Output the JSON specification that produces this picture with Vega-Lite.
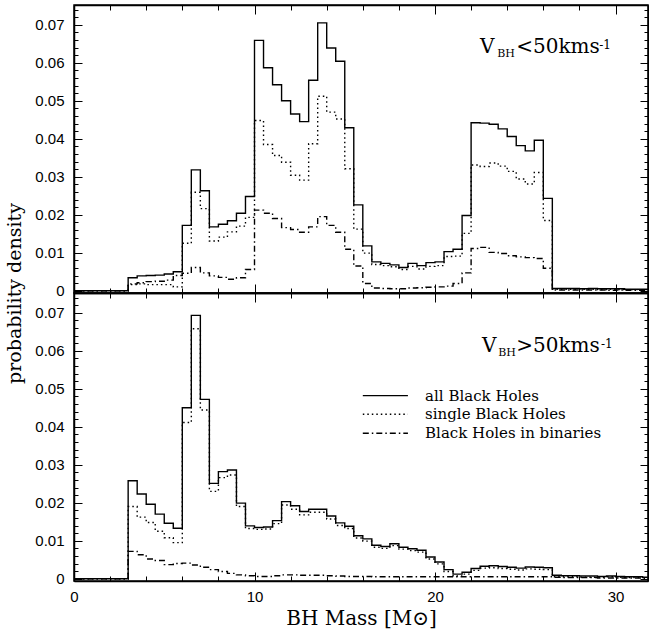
{
  "$schema": "https://vega.github.io/schema/vega-lite/v6.json",
  "padding": {"left": 4, "top": 3, "right": 0, "bottom": 0},
  "spacing": 0,
  "bounds": "flush",
  "config": {
    "view": {"stroke": null},
    "axis": {
      "grid": false, "domain": true, "ticks": true, "domainColor": "#000", "domainWidth": 1.5, "tickColor": "#000", "tickWidth": 1,
      "labelColor": "#000", "labelFont": "Liberation Sans", "labelFontSize": 15, "labelFlush": false,
      "labelOverlap": false, "labelBound": false,
      "titleColor": "#000", "titleFont": "DejaVu Serif", "titleFontWeight": "normal", "titleFontSize": 19
    },
    "text": {"font": "DejaVu Serif", "color": "#000"}
  },
  "datasets": {
    "hist": [
      {"p":"t","x":0,"a":0,"s":0,"b":0},
      {"p":"t","x":3,"a":0.0034,"s":0.0016,"b":0.0018},
      {"p":"t","x":3.5,"a":0.0039,"s":0.0018,"b":0.0021},
      {"p":"t","x":4,"a":0.0040,"s":0.0016,"b":0.0024},
      {"p":"t","x":4.5,"a":0.0041,"s":0.0016,"b":0.0025},
      {"p":"t","x":5,"a":0.0044,"s":0.0016,"b":0.0028},
      {"p":"t","x":5.5,"a":0.0050,"s":0.0010,"b":0.0040},
      {"p":"t","x":6,"a":0.0172,"s":0.0125,"b":0.0046},
      {"p":"t","x":6.5,"a":0.0318,"s":0.0259,"b":0.0061},
      {"p":"t","x":7,"a":0.0263,"s":0.0216,"b":0.0047},
      {"p":"t","x":7.5,"a":0.0168,"s":0.0131,"b":0.0039},
      {"p":"t","x":8,"a":0.0175,"s":0.0141,"b":0.0035},
      {"p":"t","x":8.5,"a":0.0184,"s":0.0155,"b":0.0030},
      {"p":"t","x":9,"a":0.0204,"s":0.0170,"b":0.0034},
      {"p":"t","x":9.5,"a":0.0248,"s":0.0193,"b":0.0056},
      {"p":"t","x":10,"a":0.0659,"s":0.0448,"b":0.0212},
      {"p":"t","x":10.5,"a":0.0587,"s":0.0385,"b":0.0204},
      {"p":"t","x":11,"a":0.0542,"s":0.0356,"b":0.0190},
      {"p":"t","x":11.5,"a":0.0500,"s":0.0338,"b":0.0166},
      {"p":"t","x":12,"a":0.0465,"s":0.0304,"b":0.0161},
      {"p":"t","x":12.5,"a":0.0445,"s":0.0291,"b":0.0154},
      {"p":"t","x":13,"a":0.0554,"s":0.0387,"b":0.0168},
      {"p":"t","x":13.5,"a":0.0705,"s":0.0512,"b":0.0195},
      {"p":"t","x":14,"a":0.0639,"s":0.0470,"b":0.0172},
      {"p":"t","x":14.5,"a":0.0604,"s":0.0452,"b":0.0154},
      {"p":"t","x":15,"a":0.0429,"s":0.0321,"b":0.0109},
      {"p":"t","x":15.5,"a":0.0226,"s":0.0162,"b":0.0065},
      {"p":"t","x":16,"a":0.0118,"s":0.0099,"b":0.0019},
      {"p":"t","x":16.5,"a":0.0076,"s":0.0069,"b":0.0007},
      {"p":"t","x":17,"a":0.0072,"s":0.0066,"b":0.0006},
      {"p":"t","x":17.5,"a":0.0068,"s":0.0063,"b":0.0005},
      {"p":"t","x":18,"a":0.0061,"s":0.0056,"b":0.0005},
      {"p":"t","x":18.5,"a":0.0072,"s":0.0064,"b":0.0007},
      {"p":"t","x":19,"a":0.0066,"s":0.0057,"b":0.0008},
      {"p":"t","x":19.5,"a":0.0074,"s":0.0064,"b":0.0009},
      {"p":"t","x":20,"a":0.0076,"s":0.0066,"b":0.0010},
      {"p":"t","x":20.5,"a":0.0103,"s":0.0090,"b":0.0012},
      {"p":"t","x":21,"a":0.0109,"s":0.0091,"b":0.0019},
      {"p":"t","x":21.5,"a":0.0198,"s":0.0151,"b":0.0047},
      {"p":"t","x":22,"a":0.0442,"s":0.0331,"b":0.0111},
      {"p":"t","x":22.5,"a":0.0441,"s":0.0327,"b":0.0114},
      {"p":"t","x":23,"a":0.0438,"s":0.0336,"b":0.0101},
      {"p":"t","x":23.5,"a":0.0426,"s":0.0328,"b":0.0098},
      {"p":"t","x":24,"a":0.0406,"s":0.0314,"b":0.0092},
      {"p":"t","x":24.5,"a":0.0382,"s":0.0294,"b":0.0089},
      {"p":"t","x":25,"a":0.0368,"s":0.0281,"b":0.0087},
      {"p":"t","x":25.5,"a":0.0396,"s":0.0311,"b":0.0085},
      {"p":"t","x":26,"a":0.0243,"s":0.0185,"b":0.0059},
      {"p":"t","x":26.5,"a":0.0006,"s":0.0004,"b":0.0002},
      {"p":"t","x":27,"a":0.0006,"s":0.0004,"b":0.0002},
      {"p":"t","x":27.5,"a":0.0006,"s":0.0004,"b":0.0002},
      {"p":"t","x":28,"a":0.0005,"s":0.0004,"b":0.0002},
      {"p":"t","x":28.5,"a":0.0006,"s":0.0004,"b":0.0002},
      {"p":"t","x":29,"a":0.0005,"s":0.0003,"b":0.0002},
      {"p":"t","x":29.5,"a":0.0005,"s":0.0004,"b":0.0001},
      {"p":"t","x":30,"a":0.0005,"s":0.0003,"b":0.0002},
      {"p":"t","x":30.5,"a":0.0004,"s":0.0003,"b":0.0001},
      {"p":"t","x":31,"a":0.0004,"s":0.0003,"b":0.0001},
      {"p":"t","x":31.5,"a":0.0004,"s":0.0003,"b":0.0001},
      {"p":"t","x":31.8,"a":0.0004,"s":0.0003,"b":0.0001},
      {"p":"b","x":0,"a":0,"s":0,"b":0},
      {"p":"b","x":3,"a":0.0258,"s":0.0190,"b":0.0072},
      {"p":"b","x":3.5,"a":0.0223,"s":0.0162,"b":0.0063},
      {"p":"b","x":4,"a":0.0196,"s":0.0148,"b":0.0052},
      {"p":"b","x":4.5,"a":0.0170,"s":0.0125,"b":0.0048},
      {"p":"b","x":5,"a":0.0146,"s":0.0108,"b":0.0037},
      {"p":"b","x":5.5,"a":0.0133,"s":0.0095,"b":0.0040},
      {"p":"b","x":6,"a":0.0450,"s":0.0411,"b":0.0041},
      {"p":"b","x":6.5,"a":0.0693,"s":0.0658,"b":0.0036},
      {"p":"b","x":7,"a":0.0472,"s":0.0444,"b":0.0030},
      {"p":"b","x":7.5,"a":0.0251,"s":0.0230,"b":0.0024},
      {"p":"b","x":8,"a":0.0282,"s":0.0266,"b":0.0019},
      {"p":"b","x":8.5,"a":0.0286,"s":0.0273,"b":0.0014},
      {"p":"b","x":9,"a":0.0199,"s":0.0190,"b":0.0010},
      {"p":"b","x":9.5,"a":0.0139,"s":0.0132,"b":0.0008},
      {"p":"b","x":10,"a":0.0135,"s":0.0130,"b":0.0006},
      {"p":"b","x":10.5,"a":0.0136,"s":0.0131,"b":0.0006},
      {"p":"b","x":11,"a":0.0153,"s":0.0145,"b":0.0008},
      {"p":"b","x":11.5,"a":0.0203,"s":0.0194,"b":0.0010},
      {"p":"b","x":12,"a":0.0192,"s":0.0183,"b":0.0010},
      {"p":"b","x":12.5,"a":0.0177,"s":0.0168,"b":0.0009},
      {"p":"b","x":13,"a":0.0183,"s":0.0175,"b":0.0009},
      {"p":"b","x":13.5,"a":0.0183,"s":0.0175,"b":0.0009},
      {"p":"b","x":14,"a":0.0165,"s":0.0157,"b":0.0008},
      {"p":"b","x":14.5,"a":0.0147,"s":0.0140,"b":0.0007},
      {"p":"b","x":15,"a":0.0138,"s":0.0132,"b":0.0006},
      {"p":"b","x":15.5,"a":0.0113,"s":0.0107,"b":0.0006},
      {"p":"b","x":16,"a":0.0105,"s":0.0099,"b":0.0006},
      {"p":"b","x":16.5,"a":0.0088,"s":0.0083,"b":0.0005},
      {"p":"b","x":17,"a":0.0085,"s":0.0080,"b":0.0005},
      {"p":"b","x":17.5,"a":0.0092,"s":0.0087,"b":0.0005},
      {"p":"b","x":18,"a":0.0083,"s":0.0078,"b":0.0005},
      {"p":"b","x":18.5,"a":0.0079,"s":0.0074,"b":0.0005},
      {"p":"b","x":19,"a":0.0075,"s":0.0070,"b":0.0005},
      {"p":"b","x":19.5,"a":0.0057,"s":0.0052,"b":0.0005},
      {"p":"b","x":20,"a":0.0044,"s":0.0039,"b":0.0005},
      {"p":"b","x":20.5,"a":0.0024,"s":0.0019,"b":0.0005},
      {"p":"b","x":21,"a":0.0012,"s":0.0007,"b":0.0005},
      {"p":"b","x":21.5,"a":0.0017,"s":0.0012,"b":0.0005},
      {"p":"b","x":22,"a":0.0027,"s":0.0022,"b":0.0005},
      {"p":"b","x":22.5,"a":0.0033,"s":0.0028,"b":0.0005},
      {"p":"b","x":23,"a":0.0034,"s":0.0029,"b":0.0005},
      {"p":"b","x":23.5,"a":0.0032,"s":0.0027,"b":0.0005},
      {"p":"b","x":24,"a":0.0030,"s":0.0025,"b":0.0005},
      {"p":"b","x":24.5,"a":0.0028,"s":0.0023,"b":0.0005},
      {"p":"b","x":25,"a":0.0031,"s":0.0026,"b":0.0005},
      {"p":"b","x":25.5,"a":0.0030,"s":0.0025,"b":0.0005},
      {"p":"b","x":26,"a":0.0029,"s":0.0024,"b":0.0005},
      {"p":"b","x":26.5,"a":0.0009,"s":0.0005,"b":0.0004},
      {"p":"b","x":27,"a":0.0008,"s":0.0005,"b":0.0003},
      {"p":"b","x":27.5,"a":0.0008,"s":0.0005,"b":0.0003},
      {"p":"b","x":28,"a":0.0007,"s":0.0004,"b":0.0003},
      {"p":"b","x":28.5,"a":0.0007,"s":0.0004,"b":0.0003},
      {"p":"b","x":29,"a":0.0006,"s":0.0004,"b":0.0002},
      {"p":"b","x":29.5,"a":0.0007,"s":0.0005,"b":0.0002},
      {"p":"b","x":30,"a":0.0006,"s":0.0004,"b":0.0002},
      {"p":"b","x":30.5,"a":0.0005,"s":0.0003,"b":0.0002},
      {"p":"b","x":31,"a":0.0005,"s":0.0003,"b":0.0002},
      {"p":"b","x":31.5,"a":0.0004,"s":0.0003,"b":0.0001},
      {"p":"b","x":31.8,"a":0.0004,"s":0.0003,"b":0.0001}
    ],
    "notes": [
      {"p":"t","x":22.49,"y":0.0626,"text":"V","size":20},
      {"p":"t","x":23.45,"y":0.0614,"text":"BH","size":11},
      {"p":"t","x":24.5,"y":0.0626,"text":"<50kms","size":20},
      {"p":"t","x":29.1,"y":0.0636,"text":"-1","size":12},
      {"p":"b","x":22.6,"y":0.0597,"text":"V","size":20},
      {"p":"b","x":23.5,"y":0.0585,"text":"BH","size":11},
      {"p":"b","x":24.5,"y":0.0597,"text":">50kms","size":20},
      {"p":"b","x":29.2,"y":0.0607,"text":"-1","size":12}
    ],
    "legend": [
      {"series":"a","x1":16.0,"x2":18.5,"xt":19.45,"y":0.0482,"label":"all Black Holes"},
      {"series":"s","x1":16.0,"x2":18.5,"xt":19.45,"y":0.0433,"label":"single Black Holes"},
      {"series":"b","x1":16.0,"x2":18.5,"xt":19.45,"y":0.0383,"label":"Black Holes in binaries"}
    ]
  },
  "vconcat": [
    {
      "width": 574, "height": 288,
      "view": {"stroke": "#000", "strokeWidth": 1.5},
      "resolve": {"axis": {"x": "independent", "y": "independent"}},
      "layer": [
        {
          "data": {"name": "hist"},
          "transform": [{"filter": "datum.p === 't'"}, {"fold": ["a", "s", "b"], "as": ["series", "value"]}],
          "mark": {"type": "line", "interpolate": "step-after", "color": "#000", "strokeWidth": 1.4},
          "encoding": {
            "x": {"field": "x", "type": "quantitative", "scale": {"domain": [0, 31.8], "nice": false, "zero": false},
              "axis": {"orient": "bottom", "labels": false, "title": null, "values": [0, 10, 20, 30], "tickSize": -9,
                "domainColor": "#000", "tickColor": "#000", "domainWidth": 1.5, "tickWidth": 1}},
            "y": {"field": "value", "type": "quantitative", "scale": {"domain": [-0.0006, 0.0752], "nice": false, "zero": false},
              "axis": {"orient": "left", "title": null, "minExtent": 46, "maxExtent": 46,
                "values": [0, 0.01, 0.02, 0.03, 0.04, 0.05, 0.06, 0.07],
                "labelExpr": "datum.value == 0 ? '0' : format(datum.value, '.2f')",
                "tickSize": -8, "labelPadding": 18, "domainColor": "#000", "tickColor": "#000", "domainWidth": 1.5, "tickWidth": 1}},
            "strokeDash": {"field": "series", "type": "nominal", "scale": {"domain": ["a", "s", "b"], "range": [[1, 0], [1.5, 3], [6, 3, 1.5, 3]]}, "legend": null}
          }
        },
        {
          "data": {"name": "hist"},
          "transform": [{"filter": "datum.p === 't'"}, {"fold": ["a", "s", "b"], "as": ["series", "value"]}],
          "mark": {"type": "line", "opacity": 0},
          "encoding": {
            "x": {"field": "x", "type": "quantitative",
              "axis": {"orient": "top", "labels": false, "title": null, "values": [0, 10, 20, 30], "tickSize": -9, "minExtent": 0, "maxExtent": 0,
                "domainColor": "#000", "tickColor": "#000", "domainWidth": 1.5, "tickWidth": 1}},
            "y": {"field": "value", "type": "quantitative",
              "axis": {"orient": "right", "labels": false, "title": null, "values": [0, 0.01, 0.02, 0.03, 0.04, 0.05, 0.06, 0.07], "tickSize": -8, "minExtent": 0, "maxExtent": 0,
                "domainColor": "#000", "tickColor": "#000", "domainWidth": 1.5, "tickWidth": 1}}
          }
        },
        {
          "data": {"name": "hist"},
          "transform": [{"filter": "datum.p === 't'"}, {"fold": ["a", "s", "b"], "as": ["series", "value"]}],
          "mark": {"type": "line", "opacity": 0},
          "encoding": {
            "x": {"field": "x", "type": "quantitative",
              "axis": {"orient": "bottom", "labels": false, "domain": false, "title": null, "values": [2,4,6,8,12,14,16,18,22,24,26,28], "tickSize": -5, "minExtent": 0, "maxExtent": 0,
                "tickColor": "#000", "tickWidth": 1}},
            "y": {"field": "value", "type": "quantitative",
              "axis": {"orient": "left", "labels": false, "domain": false, "title": null, "tickSize": -4, "minExtent": 0, "maxExtent": 0, "tickColor": "#000", "tickWidth": 1,
                "values": [0.002,0.004,0.006,0.008,0.012,0.014,0.016,0.018,0.022,0.024,0.026,0.028,0.032,0.034,0.036,0.038,0.042,0.044,0.046,0.048,0.052,0.054,0.056,0.058,0.062,0.064,0.066,0.068,0.072,0.074]}}
          }
        },
        {
          "data": {"name": "hist"},
          "transform": [{"filter": "datum.p === 't'"}, {"fold": ["a", "s", "b"], "as": ["series", "value"]}],
          "mark": {"type": "line", "opacity": 0},
          "encoding": {
            "x": {"field": "x", "type": "quantitative",
              "axis": {"orient": "top", "labels": false, "domain": false, "title": null, "values": [2,4,6,8,12,14,16,18,22,24,26,28], "tickSize": -5, "minExtent": 0, "maxExtent": 0,
                "tickColor": "#000", "tickWidth": 1}},
            "y": {"field": "value", "type": "quantitative",
              "axis": {"orient": "right", "labels": false, "domain": false, "title": null, "tickSize": -4, "minExtent": 0, "maxExtent": 0, "tickColor": "#000", "tickWidth": 1,
                "values": [0.002,0.004,0.006,0.008,0.012,0.014,0.016,0.018,0.022,0.024,0.026,0.028,0.032,0.034,0.036,0.038,0.042,0.044,0.046,0.048,0.052,0.054,0.056,0.058,0.062,0.064,0.066,0.068,0.072,0.074]}}
          }
        },
        {
          "data": {"name": "notes"},
          "transform": [{"filter": "datum.p === 't'"}],
          "mark": {"type": "text", "align": "left", "baseline": "alphabetic", "font": "DejaVu Serif"},
          "encoding": {
            "x": {"field": "x", "type": "quantitative", "axis": null},
            "y": {"field": "y", "type": "quantitative", "axis": null},
            "text": {"field": "text"},
            "size": {"field": "size", "type": "quantitative", "scale": null}
          }
        }
      ]
    },
    {
      "width": 574, "height": 288,
      "view": {"stroke": "#000", "strokeWidth": 1.5},
      "resolve": {"axis": {"x": "independent", "y": "independent"}},
      "layer": [
        {
          "data": {"name": "hist"},
          "transform": [{"filter": "datum.p === 'b'"}, {"fold": ["a", "s", "b"], "as": ["series", "value"]}],
          "mark": {"type": "line", "interpolate": "step-after", "color": "#000", "strokeWidth": 1.4},
          "encoding": {
            "x": {"field": "x", "type": "quantitative", "scale": {"domain": [0, 31.8], "nice": false, "zero": false},
              "axis": {"orient": "bottom", "title": "BH Mass [M⊙]", "titleFontSize": 20, "titlePadding": 4,
                "values": [0, 10, 20, 30], "tickSize": -9, "labelPadding": 17,
                "domainColor": "#000", "tickColor": "#000", "domainWidth": 1.5, "tickWidth": 1}},
            "y": {"field": "value", "type": "quantitative", "scale": {"domain": [-0.0006, 0.0752], "nice": false, "zero": false},
              "axis": {"orient": "left", "title": "probability density", "titleAnchor": "end", "titleAlign": "center",
                "titlePadding": 4, "minExtent": 46, "maxExtent": 46,
                "values": [0, 0.01, 0.02, 0.03, 0.04, 0.05, 0.06, 0.07],
                "labelExpr": "datum.value == 0 ? '0' : format(datum.value, '.2f')",
                "tickSize": -8, "labelPadding": 18, "domainColor": "#000", "tickColor": "#000", "domainWidth": 1.5, "tickWidth": 1}},
            "strokeDash": {"field": "series", "type": "nominal", "scale": {"domain": ["a", "s", "b"], "range": [[1, 0], [1.5, 3], [6, 3, 1.5, 3]]}, "legend": null}
          }
        },
        {
          "data": {"name": "hist"},
          "transform": [{"filter": "datum.p === 'b'"}, {"fold": ["a", "s", "b"], "as": ["series", "value"]}],
          "mark": {"type": "line", "opacity": 0},
          "encoding": {
            "x": {"field": "x", "type": "quantitative",
              "axis": {"orient": "top", "labels": false, "title": null, "values": [0, 10, 20, 30], "tickSize": -9, "minExtent": 0, "maxExtent": 0,
                "domainColor": "#000", "tickColor": "#000", "domainWidth": 1.5, "tickWidth": 1}},
            "y": {"field": "value", "type": "quantitative",
              "axis": {"orient": "right", "labels": false, "title": null, "values": [0, 0.01, 0.02, 0.03, 0.04, 0.05, 0.06, 0.07], "tickSize": -8, "minExtent": 0, "maxExtent": 0,
                "domainColor": "#000", "tickColor": "#000", "domainWidth": 1.5, "tickWidth": 1}}
          }
        },
        {
          "data": {"name": "hist"},
          "transform": [{"filter": "datum.p === 'b'"}, {"fold": ["a", "s", "b"], "as": ["series", "value"]}],
          "mark": {"type": "line", "opacity": 0},
          "encoding": {
            "x": {"field": "x", "type": "quantitative",
              "axis": {"orient": "bottom", "labels": false, "domain": false, "title": null, "values": [2,4,6,8,12,14,16,18,22,24,26,28], "tickSize": -5, "minExtent": 0, "maxExtent": 0,
                "tickColor": "#000", "tickWidth": 1}},
            "y": {"field": "value", "type": "quantitative",
              "axis": {"orient": "left", "labels": false, "domain": false, "title": null, "tickSize": -4, "minExtent": 0, "maxExtent": 0, "tickColor": "#000", "tickWidth": 1,
                "values": [0.002,0.004,0.006,0.008,0.012,0.014,0.016,0.018,0.022,0.024,0.026,0.028,0.032,0.034,0.036,0.038,0.042,0.044,0.046,0.048,0.052,0.054,0.056,0.058,0.062,0.064,0.066,0.068,0.072,0.074]}}
          }
        },
        {
          "data": {"name": "hist"},
          "transform": [{"filter": "datum.p === 'b'"}, {"fold": ["a", "s", "b"], "as": ["series", "value"]}],
          "mark": {"type": "line", "opacity": 0},
          "encoding": {
            "x": {"field": "x", "type": "quantitative",
              "axis": {"orient": "top", "labels": false, "domain": false, "title": null, "values": [2,4,6,8,12,14,16,18,22,24,26,28], "tickSize": -5, "minExtent": 0, "maxExtent": 0,
                "tickColor": "#000", "tickWidth": 1}},
            "y": {"field": "value", "type": "quantitative",
              "axis": {"orient": "right", "labels": false, "domain": false, "title": null, "tickSize": -4, "minExtent": 0, "maxExtent": 0, "tickColor": "#000", "tickWidth": 1,
                "values": [0.002,0.004,0.006,0.008,0.012,0.014,0.016,0.018,0.022,0.024,0.026,0.028,0.032,0.034,0.036,0.038,0.042,0.044,0.046,0.048,0.052,0.054,0.056,0.058,0.062,0.064,0.066,0.068,0.072,0.074]}}
          }
        },
        {
          "data": {"name": "notes"},
          "transform": [{"filter": "datum.p === 'b'"}],
          "mark": {"type": "text", "align": "left", "baseline": "alphabetic", "font": "DejaVu Serif"},
          "encoding": {
            "x": {"field": "x", "type": "quantitative", "axis": null},
            "y": {"field": "y", "type": "quantitative", "axis": null},
            "text": {"field": "text"},
            "size": {"field": "size", "type": "quantitative", "scale": null}
          }
        },
        {
          "data": {"name": "legend"},
          "mark": {"type": "rule", "color": "#000", "strokeWidth": 1.4},
          "encoding": {
            "x": {"field": "x1", "type": "quantitative", "axis": null},
            "x2": {"field": "x2"},
            "y": {"field": "y", "type": "quantitative", "axis": null},
            "strokeDash": {"field": "series", "type": "nominal", "legend": null}
          }
        },
        {
          "data": {"name": "legend"},
          "mark": {"type": "text", "align": "left", "baseline": "middle", "font": "DejaVu Serif", "fontSize": 15},
          "encoding": {
            "x": {"field": "xt", "type": "quantitative", "axis": null},
            "y": {"field": "y", "type": "quantitative", "axis": null},
            "text": {"field": "label"}
          }
        }
      ]
    }
  ]
}
